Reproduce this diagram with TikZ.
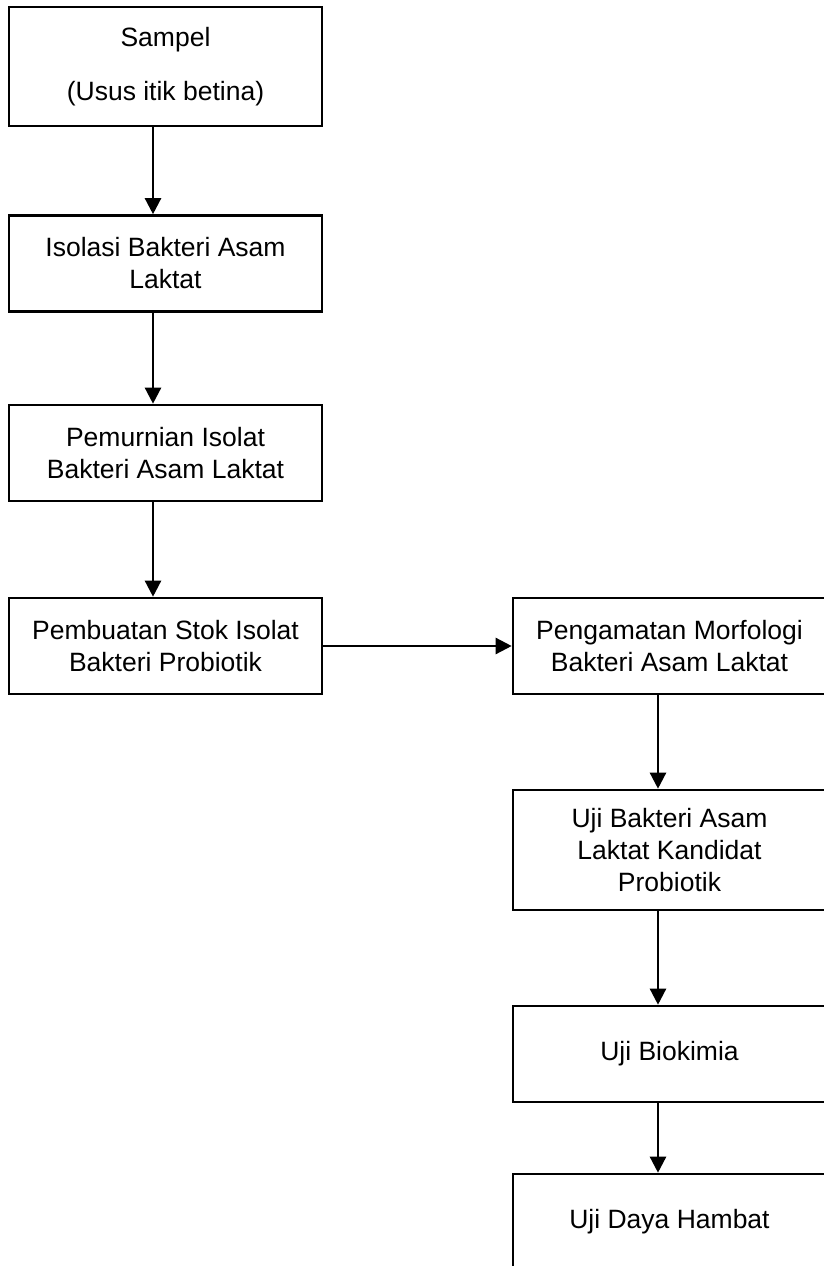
\documentclass[tikz,border=0pt]{standalone}
\usepackage{fontspec}
\setmainfont{Liberation Sans}
\usetikzlibrary{arrows.meta}

\tikzset{
  stage/.style={draw, line width=2.6pt, minimum width=313pt, minimum height=96pt,
    align=center, inner sep=0pt, font=\fontsize{26.5}{32}\selectfont},
  flow/.style={line width=2.4pt, -{Triangle[width=16pt,length=16pt]}}
}

\begin{document}
\begin{tikzpicture}[x=1pt,y=-1pt]
\useasboundingbox (0,0) rectangle (824,1266);
\clip (0,0) rectangle (824,1266);

% Left column
\node[stage, minimum height=119pt] (sampel) at (165.5,66.5) {Sampel\\[22pt](Usus itik betina)};
\node[stage] (isolasi) at (165.5,263.5) {Isolasi Bakteri Asam\\Laktat};
\node[stage] (pemurnian) at (165.5,453) {Pemurnian Isolat\\Bakteri Asam Laktat};
\node[stage] (stok) at (165.5,646) {Pembuatan Stok Isolat\\Bakteri Probiotik};

% Right column
\node[stage] (morfologi) at (669.5,646) {Pengamatan Morfologi\\Bakteri Asam Laktat};
\node[stage, minimum height=120pt] (kandidat) at (669.5,850) {Uji Bakteri Asam\\Laktat Kandidat\\Probiotik};
\node[stage] (biokimia) at (669.5,1054) {Uji Biokimia};
\node[stage] (hambat) at (669.5,1222) {Uji Daya Hambat};

% Arrows
\coordinate (colL) at (153,0);
\coordinate (colR) at (658,0);
\draw[flow] (sampel.south -| colL) -- (isolasi.north -| colL);
\draw[flow] (isolasi.south -| colL) -- (pemurnian.north -| colL);
\draw[flow] (pemurnian.south -| colL) -- (stok.north -| colL);
\draw[flow] (stok.east) -- (morfologi.west);
\draw[flow] (morfologi.south -| colR) -- (kandidat.north -| colR);
\draw[flow] (kandidat.south -| colR) -- (biokimia.north -| colR);
\draw[flow] (biokimia.south -| colR) -- (hambat.north -| colR);

\end{tikzpicture}
\end{document}
